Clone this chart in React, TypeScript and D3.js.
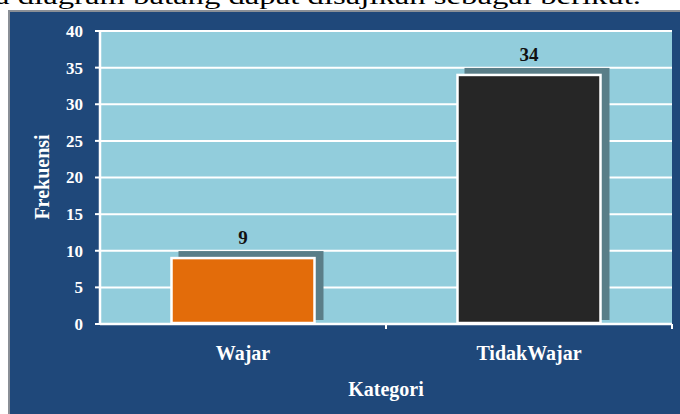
import React from "react";
import * as d3 from "d3";

const categories = ["Wajar", "TidakWajar"];
const values = [9, 34];
const barColors = ["#E36C0A", "#262626"];
const yTicks = [0, 5, 10, 15, 20, 25, 30, 35, 40];
const yTitle = "Frekuensi";
const xTitle = "Kategori";
const caption = "a diagram batang dapat disajikan sebagai berikut.";

export default function App() {
  const W = 680, H = 414;
  const plot = { left: 100, right: 672, top: 31, bottom: 324 };
  const x = d3.scaleBand<string>().domain(categories).range([plot.left, plot.right]).paddingInner(0.5).paddingOuter(0.25);
  const y = d3.scaleLinear().domain([0, 40]).range([plot.bottom, plot.top]);
  const font = "'Liberation Serif', 'Times New Roman', serif";
  const mid = (plot.left + plot.right) / 2;
  return (
    <svg width={W} height={H} style={{ position: "absolute", left: 0, top: 0, background: "#fff" }}>
      <text x={-5} y={4} fontFamily={font} fontSize={24} fill="#000" textLength={646} lengthAdjust="spacingAndGlyphs">{caption}</text>
      <rect x={8} y={10} width={W - 8} height={H - 10} fill="#8a8f96" />
      <rect x={10} y={12} width={W - 10} height={H - 12} fill="#1F487A" />
      <rect x={plot.left} y={plot.top} width={plot.right - plot.left} height={plot.bottom - plot.top} fill="#92CDDC" />
      {yTicks.map((t) => (
        <g key={t}>
          <line x1={plot.left} x2={plot.right} y1={y(t)} y2={y(t)} stroke="#fff" strokeWidth={2} />
          <line x1={plot.left - 5} x2={plot.left} y1={y(t)} y2={y(t)} stroke="#fff" strokeWidth={2} />
          <text x={83} y={y(t)} dy="0.35em" textAnchor="end" fontFamily={font} fontWeight="bold" fontSize={17} fill="#fff">{t}</text>
        </g>
      ))}
      {categories.map((c, i) => {
        const bx = x(c)!;
        const bw = x.bandwidth();
        const by = y(values[i]);
        return (
          <g key={c}>
            <rect x={bx + 7} y={by - 7} width={bw + 2} height={plot.bottom - 4 - (by - 7)} fill="#5A7E88" />
            <rect x={bx} y={by} width={bw} height={plot.bottom - by - 1} fill={barColors[i]} stroke="#fff" strokeWidth={2.5} />
            <text x={bx + bw / 2} y={by - 14} textAnchor="middle" fontFamily={font} fontWeight="bold" fontSize={19} fill="#111">{values[i]}</text>
            <text x={bx + bw / 2} y={353} dy="0.35em" textAnchor="middle" fontFamily={font} fontWeight="bold" fontSize={20} fill="#fff">{c}</text>
          </g>
        );
      })}
      <line x1={plot.left} x2={plot.left} y1={plot.top} y2={plot.bottom + 1} stroke="#fff" strokeWidth={2.5} />
      <line x1={plot.left} x2={plot.right} y1={plot.bottom} y2={plot.bottom} stroke="#fff" strokeWidth={2.5} />
      <line x1={mid} x2={mid} y1={plot.bottom} y2={plot.bottom + 5} stroke="#fff" strokeWidth={2} />
      <line x1={plot.right} x2={plot.right} y1={plot.bottom} y2={plot.bottom + 5} stroke="#fff" strokeWidth={2} />
      <text x={mid} y={389} dy="0.35em" textAnchor="middle" fontFamily={font} fontWeight="bold" fontSize={20} fill="#fff">{xTitle}</text>
      <text transform={`translate(42,177) rotate(-90)`} dy="0.35em" textAnchor="middle" fontFamily={font} fontWeight="bold" fontSize={20} fill="#fff">{yTitle}</text>
    </svg>
  );
}
